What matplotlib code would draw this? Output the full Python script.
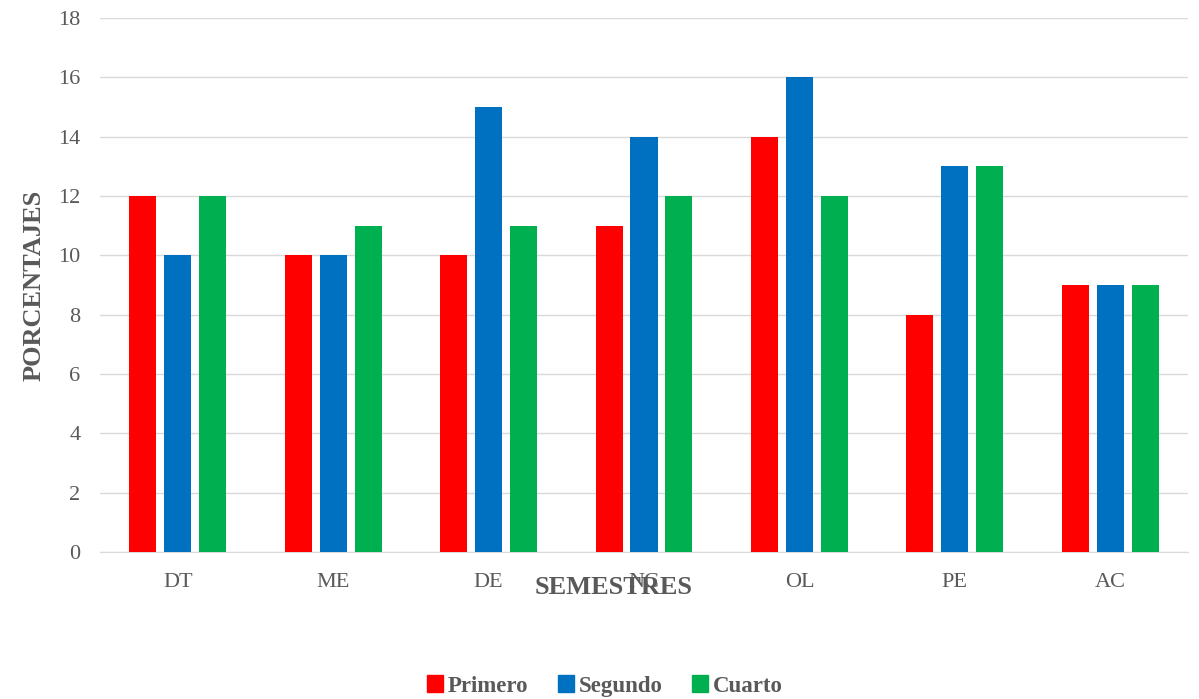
import numpy as np
import matplotlib
matplotlib.use('Agg')
from matplotlib import pyplot as plt
from matplotlib.patches import Patch

categorias = ['DT', 'ME', 'DE', 'NC', 'OL', 'PE', 'AC']
primero = [12, 10, 10, 11, 14, 8, 9]
segundo = [10, 10, 15, 14, 16, 13, 9]
cuarto = [12, 11, 11, 12, 12, 13, 9]
series = ['Primero', 'Segundo', 'Cuarto']
colores = ['#FF0000', '#0070C0', '#00B050']

plt.rcParams['font.family'] = ['Liberation Serif', 'DejaVu Serif']
gris = '#595959'

fig = plt.figure(figsize=(11.99, 6.99), dpi=100)
ax = fig.add_axes([100 / 1199, 147 / 699, 1088 / 1199, 534 / 699])

x = np.arange(len(categorias))
ancho = 0.174
paso = 0.225
for i, (vals, c) in enumerate(zip([primero, segundo, cuarto], colores)):
    ax.bar(x + (i - 1) * paso, vals, ancho, color=c, label=series[i], zorder=3)

ax.set_xlim(-0.5, 6.5)
ax.set_ylim(0, 18)
ax.set_yticks(range(0, 19, 2))
ax.set_xticks(x)
ax.set_xticklabels(categorias)
ax.grid(axis='y', color='#D9D9D9', linewidth=1, zorder=0)
for s in ['top', 'right', 'left']:
    ax.spines[s].set_visible(False)
ax.spines['bottom'].set_color('#D9D9D9')
ax.tick_params(axis='both', length=0, labelsize=16, labelcolor=gris)
ax.tick_params(axis='x', pad=15)
ax.tick_params(axis='y', pad=14)

fig.text(614 / 1199, 1 - 588 / 699, 'SEMESTRES', ha='center', va='center',
         fontsize=19, fontweight='bold', color=gris)
fig.text(34 / 1199, 1 - 285 / 699, 'PORCENTAJES', ha='center', va='center',
         rotation=90, fontsize=19, fontweight='bold', color=gris)

handles = [Patch(color=c) for c in colores]
leg = fig.legend(handles, series, loc='center', bbox_to_anchor=(605 / 1199, 1 - 686 / 699),
                 ncol=3, frameon=False, handlelength=0.7, handleheight=0.7,
                 handletextpad=0.2, columnspacing=1.3,
                 prop={'size': 16.5, 'weight': 'bold'})
for t in leg.get_texts():
    t.set_color(gris)

fig.savefig('out.png', dpi=100)
